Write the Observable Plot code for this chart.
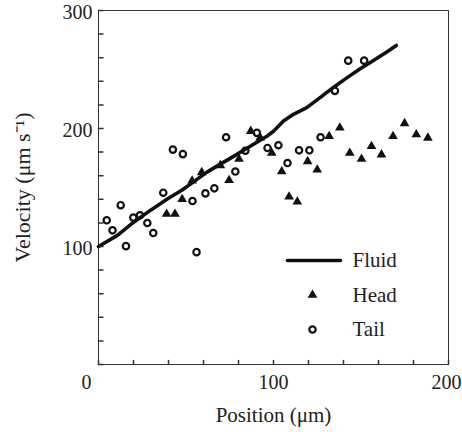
<!DOCTYPE html>
<html>
<head>
<meta charset="utf-8">
<script src="https://cdn.jsdelivr.net/npm/d3@7"></script>
<script src="https://cdn.jsdelivr.net/npm/@observablehq/plot@0.6"></script>
<style>
  html, body { margin: 0; padding: 0; background: #fff; }
  #chart svg, #chart svg text { font-family: "Liberation Serif", "Times New Roman", serif !important; }
</style>
</head>
<body>
<div id="chart"></div>
<script>
// ---- data ----
const fluidX = [0, 10.8, 20.3, 29.8, 39.3, 47.8, 54.5, 62.0, 69.6, 77.2, 86.7, 96.2, 100, 105.7, 111.4, 119.0, 126.6, 134.2, 141.7, 149.3, 156.9, 164.5, 170.2];
const fluidY = [100, 109.4, 120.8, 130.8, 140.2, 147.9, 155.0, 163.0, 169.8, 176.4, 184.9, 193.4, 197.7, 206.3, 212.0, 217.7, 226.2, 234.8, 242.7, 250.4, 257.5, 264.7, 270.4];

const headX = [38.9, 43.7, 47.8, 53.5, 59.0, 69.6, 74.6, 80.3, 87.0, 92.4, 99.0, 104.7, 108.9, 113.6, 119.5, 125.0, 131.8, 137.9, 143.6, 150.3, 156.0, 161.7, 168.3, 174.9, 181.6, 188.2];
const headY = [127.5, 127.5, 140.0, 155.7, 162.8, 168.7, 156.1, 174.1, 197.7, 192.3, 179.2, 163.5, 142.1, 137.9, 172.1, 165.0, 193.4, 200.6, 179.2, 174.1, 184.9, 177.8, 193.4, 204.3, 194.9, 192.0];

const tailX = [4.7, 8.0, 12.7, 15.7, 19.9, 23.7, 27.9, 31.3, 37.0, 42.5, 48.2, 53.7, 56.0, 61.1, 66.2, 72.9, 78.2, 83.9, 90.5, 96.6, 102.8, 108.0, 114.6, 120.5, 126.9, 135.1, 142.7, 151.8];
const tailY = [122.2, 113.7, 135.0, 100.3, 124.5, 126.5, 119.9, 111.4, 145.6, 182.1, 178.3, 138.5, 95.2, 145.0, 149.3, 192.6, 163.5, 181.2, 196.3, 183.5, 185.8, 170.7, 181.5, 181.5, 192.6, 231.9, 257.5, 257.5];

const xTickLabels = [0, 100, 200];
const yTickLabels = [100, 200, 300];
const xMinorTicks = [0, 20, 40, 60, 80, 100, 120, 140, 160, 180, 200];
const yMinorTicks = [0, 20, 40, 60, 80, 100, 120, 140, 160, 180, 200, 220, 240, 260, 280, 300];
const legendLabels = ["Fluid", "Head", "Tail"];
const xTitle = "Position (μm)";
const yTitle = "Velocity (μm s⁻¹)";

// ---- build tables ----
const fluid = fluidX.map((x, i) => ({x, y: fluidY[i]}));
const head = headX.map((x, i) => ({x, y: headY[i]}));
const tail = tailX.map((x, i) => ({x, y: tailY[i]}));

const serif = "Liberation Serif";
const fs = 21, tfs = 20;
const tickShape = {draw(context, l) { context.moveTo(0, 0); context.lineTo(0, -l); }};
const ink = "#111";
const textInk = "#222";

const legendMarks = [];
const legendTop = 250, legendStep = 34.5;
legendMarks.push(Plot.vector([legendLabels[0]], {frameAnchor: "top-left", dx: 189, dy: legendTop, rotate: 90, length: 53, anchor: "start", shape: tickShape, stroke: ink, strokeWidth: 3.6, strokeLinecap: "round"}));
legendMarks.push(Plot.dot([legendLabels[1]], {frameAnchor: "top-left", dx: 214, dy: legendTop + legendStep, symbol: "triangle", r: 3.6, fill: ink, stroke: "none"}));
legendMarks.push(Plot.dot([legendLabels[2]], {frameAnchor: "top-left", dx: 214, dy: legendTop + 2 * legendStep, symbol: "circle", r: 3.2, fill: "none", stroke: ink, strokeWidth: 2.2}));
legendLabels.forEach((lab, i) => {
  legendMarks.push(Plot.text([lab], {frameAnchor: "top-left", dx: 254, dy: legendTop + i * legendStep, text: d => d, textAnchor: "start", lineAnchor: "middle", fill: textInk, fontFamily: serif, fontSize: fs}));
});

const axisText = {tickSize: 0, label: null, fill: textInk, fontFamily: serif, fontSize: tfs};

const chart = Plot.plot({
  width: 462,
  height: 432,
  marginLeft: 98,
  marginRight: 14,
  marginTop: 10,
  marginBottom: 68,
  style: {fontFamily: serif, fontSize: tfs + "px", background: "#fff", color: textInk},
  x: {domain: [0, 200]},
  y: {domain: [0, 300]},
  marks: [
    Plot.frame({stroke: "#333", strokeWidth: 1}),
    Plot.vector(xMinorTicks, {x: d => d, frameAnchor: "bottom", length: 4, anchor: "start", rotate: 0, shape: tickShape, stroke: "#333"}),
    Plot.vector(yMinorTicks, {y: d => d, frameAnchor: "left", length: 4.5, anchor: "start", rotate: 90, shape: tickShape, stroke: "#333"}),
    Plot.axisX({...axisText, ticks: xTickLabels.slice(0, 1), tickPadding: 10, dx: -12}),
    Plot.axisX({...axisText, ticks: xTickLabels.slice(1, 2), tickPadding: 10}),
    Plot.axisX({...axisText, ticks: xTickLabels.slice(2), tickPadding: 10, dx: -2}),
    Plot.axisY({...axisText, ticks: yTickLabels, tickPadding: 6, dy: 2}),
    Plot.text([xTitle], {frameAnchor: "bottom", dy: 51, text: d => d, textAnchor: "middle", lineAnchor: "middle", fill: textInk, fontFamily: serif, fontSize: fs}),
    Plot.text([yTitle], {frameAnchor: "left", dx: -76, text: d => d, rotate: -90, textAnchor: "middle", lineAnchor: "middle", fill: textInk, fontFamily: serif, fontSize: fs + 1}),
    Plot.line(fluid, {x: "x", y: "y", stroke: ink, strokeWidth: 3.6}),
    Plot.dot(head, {x: "x", y: "y", symbol: "triangle", r: 3.6, fill: ink, stroke: "none"}),
    Plot.dot(tail, {x: "x", y: "y", symbol: "circle", r: 3.2, fill: "none", stroke: ink, strokeWidth: 2.2}),
    ...legendMarks
  ]
});
document.getElementById("chart").appendChild(chart);
</script>
</body>
</html>
